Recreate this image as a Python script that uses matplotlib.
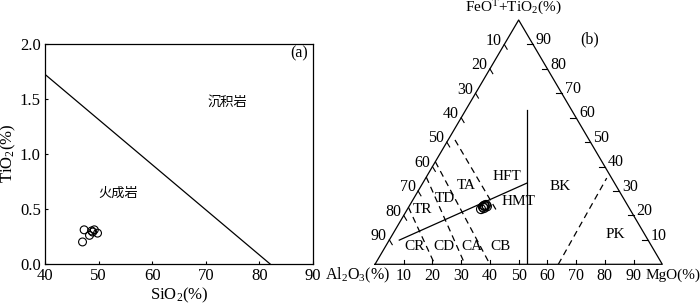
import matplotlib
matplotlib.use('Agg')
import matplotlib.pyplot as plt
import numpy as np

plt.rcParams['font.family'] = ['Liberation Serif', 'Noto Sans CJK SC']
plt.rcParams['mathtext.fontset'] = 'custom'
plt.rcParams['mathtext.rm'] = 'Liberation Serif'
plt.rcParams['mathtext.default'] = 'regular'

# (a) SiO2 - TiO2
sio2 = [47.3, 47.0, 48.3, 48.7, 49.2, 49.8, 48.9]
tio2 = [0.31, 0.20, 0.26, 0.30, 0.31, 0.28, 0.29]
boundary_sio2 = [40, 82]
boundary_tio2 = [1.72, 0.0]

# (b) Jensen cation plot: MgO, FeOT+TiO2, Al2O3 (%)
mgo = [25.6, 25.8, 26.3, 26.5, 26.4, 27.1, 26.0]
feo_tio2 = [22.6, 23.5, 23.9, 24.3, 23.0, 23.7, 24.0]
al2o3 = [51.8, 50.7, 49.8, 49.2, 50.6, 49.2, 50.0]

# boundaries as (MgO, FeOT+TiO2) end points
solid_lines = [
    [(3.5, 9.9), (36.2, 33.2)],
    [(52.85, 0.0), (21.25, 63.2)],
]
dashed_lines = [
    [(0.0, 23.3), (20.8, 0.0)],
    [(0.0, 35.7), (31.3, 0.0)],
    [(0.0, 42.0), (40.0, 0.0)],
    [(2.4, 50.9), (32.3, 21.0)],
    [(63.8, 0.0), (63.0, 35.3)],
]
tern_ticks = [10, 20, 30, 40, 50, 60, 70, 80, 90]
field_names = ['TR', 'TD', 'TA', 'HFT', 'HMT', 'BK', 'PK', 'CR', 'CD', 'CA', 'CB']
field_x = [16.7, 24.4, 31.8, 45.9, 50.1, 64.4, 83.5, 13.9, 24.0, 33.9, 43.7]
field_y = [19.6, 23.5, 28.1, 31.3, 22.2, 27.5, 10.4, 6.2, 6.2, 6.2, 6.2]

H = np.sqrt(3) / 2


def tern(m, f):
    m = np.asarray(m, dtype=float)
    f = np.asarray(f, dtype=float)
    return m + f / 2, f * H


fig = plt.figure(figsize=(7, 3.08), dpi=100)

# ---- panel (a)
ax1 = fig.add_axes([45 / 700, 44 / 308, 268 / 700, 220.5 / 308])
ax1.plot(boundary_sio2, boundary_tio2, color='black', lw=0.9)
ax1.scatter(sio2, tio2, s=32, facecolors='none', edgecolors='black', linewidths=0.8, zorder=3)
ax1.set_xlim(40, 90)
ax1.set_ylim(0, 2.0)
ax1.set_xticks([40, 50, 60, 70, 80, 90])
ax1.set_yticks([0, 0.5, 1.0, 1.5, 2.0])
ax1.set_yticklabels(['0.0', '0.5', '1.0', '1.5', '2.0'])
ax1.tick_params(labelsize=12, length=2.5, width=0.8, direction='in', pad=3)
for sp in ax1.spines.values():
    sp.set_linewidth(0.9)
ax1.set_xlabel('SiO$_2$(%)', fontsize=12, labelpad=1)
ax1.set_ylabel('TiO$_2$(%)', fontsize=12, labelpad=1)
ax1.text(74, 1.47, '沉积岩', fontsize=9.5, ha='center', va='center')
ax1.text(53.7, 0.64, '火成岩', fontsize=9.5, ha='center', va='center')
ax1.text(87.4, 1.91, '(a)', fontsize=11.5, ha='center', va='center')

# ---- panel (b)
ax2 = fig.add_axes([375 / 700, 43.7 / 308, 287.3 / 700, 244.3 / 308])
ax2.set_xlim(0, 100)
ax2.set_ylim(0, 100 * H)
ax2.axis('off')

ax2.plot([0, 100, 50, 0], [0, 0, 100 * H, 0], color='black', lw=0.9, clip_on=False)

for (p0, p1) in solid_lines:
    x, y = tern([p0[0], p1[0]], [p0[1], p1[1]])
    ax2.plot(x, y, color='black', lw=0.9)

for (p0, p1) in dashed_lines:
    x, y = tern([p0[0], p1[0]], [p0[1], p1[1]])
    ax2.plot(x, y, color='black', lw=0.9, linestyle=(0, (5, 3.5)))

for t in tern_ticks:
    # left edge: Al2O3
    f = 100 - t
    x, y = tern(0, f)
    ax2.plot([x, x + 1.0], [y, y - 1.7], color='black', lw=0.8, clip_on=False)
    ax2.text(x - 0.9, y + 1.3, str(t), fontsize=11.5, ha='right', va='center')
    # right edge: FeOT+TiO2
    x, y = tern(100 - t, t)
    ax2.plot([x, x - 2.0], [y, y], color='black', lw=0.8, clip_on=False)
    ax2.text(x + 1.0, y + 1.5, str(t), fontsize=11.5, ha='left', va='center')
    # bottom: MgO
    ax2.plot([t, t], [0, 1.7], color='black', lw=0.8, clip_on=False)
    ax2.text(t, -4.0, str(t), fontsize=11.5, ha='center', va='center')

ax2.text(48.0, 90.8, 'FeO$^{T}$+TiO$_2$(%)', fontsize=11, ha='center', va='center')
ax2.text(5.2, -4.0, 'Al$_2$O$_3$(%)', fontsize=11.5, ha='right', va='center')
ax2.text(94.0, -4.0, 'MgO(%)', fontsize=11, ha='left', va='center')
ax2.text(74.8, 79.8, '(b)', fontsize=11.5, ha='center', va='center')

for name, fx, fy in zip(field_names, field_x, field_y):
    ax2.text(fx, fy, name, fontsize=11, ha='center', va='center')

sx, sy = tern(mgo, feo_tio2)
ax2.scatter(sx, sy, s=42, facecolors='none', edgecolors='black', linewidths=0.8, zorder=3)

fig.savefig('out.png', dpi=100)
